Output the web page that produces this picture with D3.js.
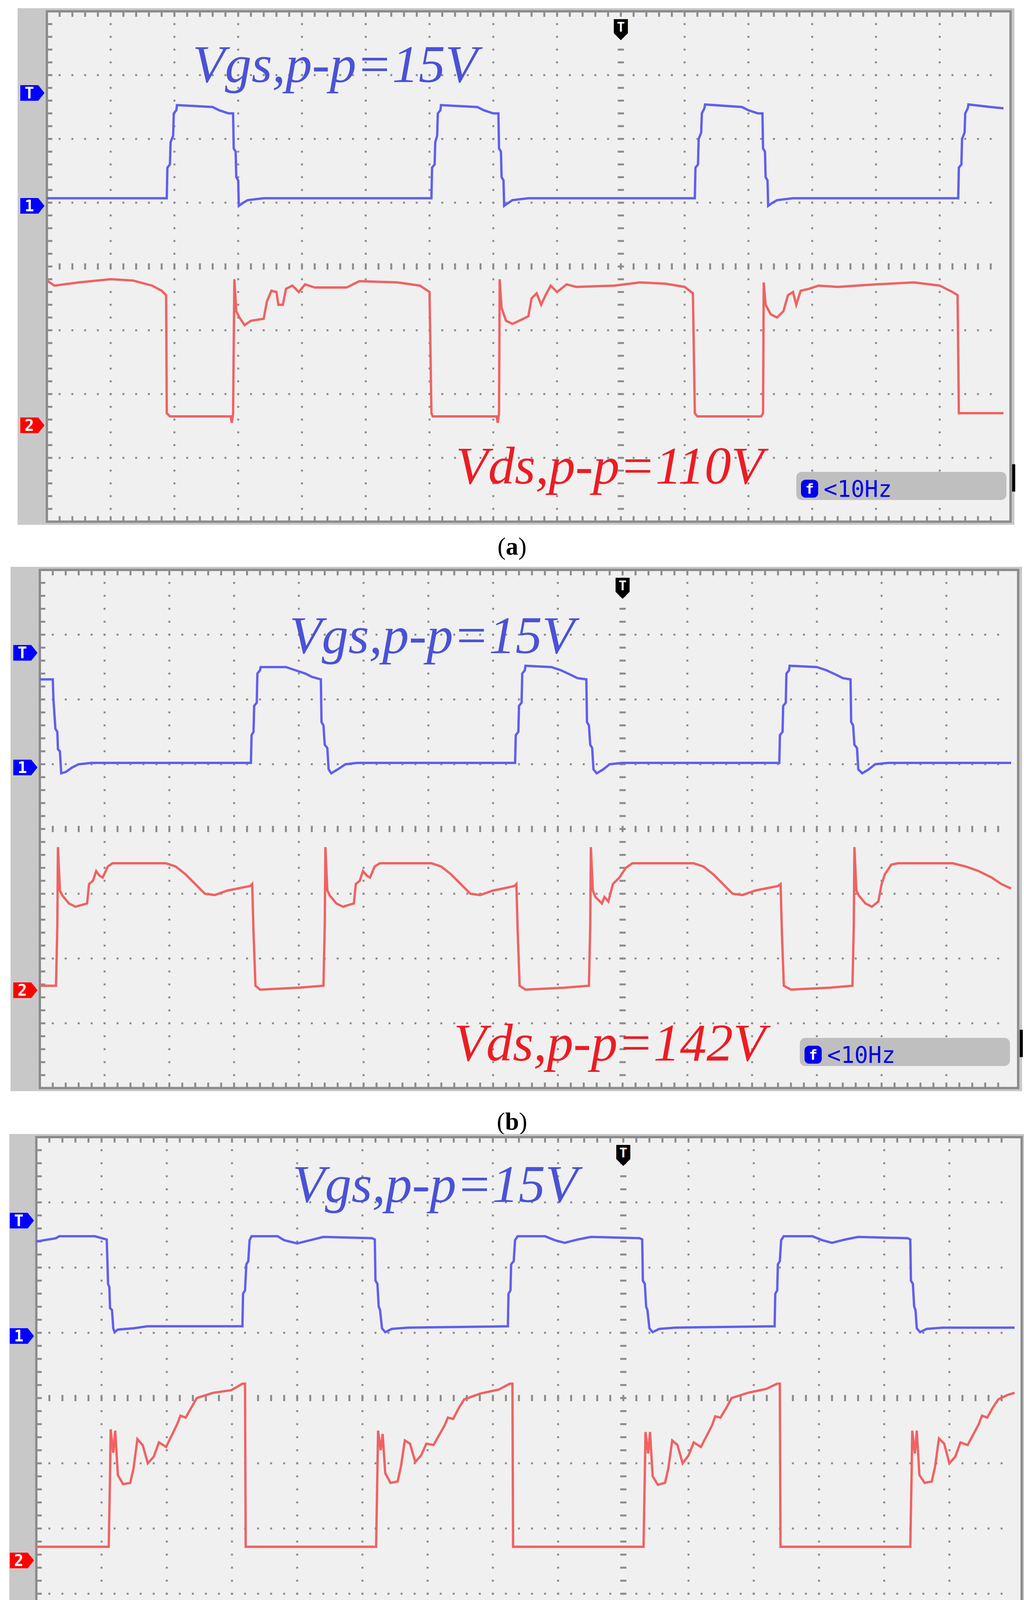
<!DOCTYPE html>
<html><head><meta charset="utf-8">
<script src="https://cdn.jsdelivr.net/npm/d3@7"></script>
<style>body{margin:0;background:#fff}</style>
</head><body><div id="chart"></div>
<script>
// traces: [time (div), level (div from top)]
const blueA = [[0,2.93],[1.88,2.93],[1.89,2.45],[1.93,2.4],[1.94,2.05],[1.98,1.95],[1.99,1.6],[2.03,1.55],[2.04,1.47],[2.6,1.5],[2.7,1.55],[2.85,1.6],[2.92,1.6],[2.93,2.15],[2.96,2.2],[2.97,2.6],[3.0,2.65],[3.01,3.05],[3.08,3.0],[3.15,2.96],[3.4,2.93],[6.03,2.93],
  [6.04,2.45],[6.08,2.4],[6.09,2.05],[6.12,1.95],[6.13,1.6],[6.17,1.55],[6.18,1.47],[6.75,1.5],[6.85,1.55],[7.0,1.6],[7.08,1.6],[7.09,2.15],[7.12,2.2],[7.13,2.6],[7.16,2.65],[7.17,3.05],[7.24,3.0],[7.3,2.96],[7.55,2.93],[10.16,2.93],
  [10.17,2.45],[10.21,2.4],[10.22,2.0],[10.26,1.9],[10.27,1.6],[10.31,1.52],[10.32,1.46],[10.9,1.5],[11.0,1.55],[11.15,1.6],[11.22,1.6],[11.23,2.15],[11.26,2.2],[11.27,2.6],[11.3,2.65],[11.31,3.05],[11.38,3.0],[11.45,2.96],[11.7,2.93],[14.29,2.93],
  [14.3,2.45],[14.34,2.4],[14.35,2.0],[14.39,1.9],[14.4,1.6],[14.44,1.52],[14.45,1.46],[14.8,1.5],[15,1.52]];
const redA = [[0,4.22],[0.12,4.3],[0.5,4.25],[1.0,4.2],[1.35,4.22],[1.65,4.3],[1.8,4.38],[1.87,4.45],[1.88,6.3],[1.93,6.35],[2.88,6.35],[2.9,6.45],[2.92,6.3],[2.94,4.2],[2.97,4.7],[3.02,4.8],[3.1,4.92],[3.2,4.85],[3.4,4.82],[3.45,4.55],[3.52,4.38],[3.6,4.4],[3.63,4.6],[3.7,4.6],[3.75,4.35],[3.85,4.3],[3.95,4.4],[4.05,4.28],[4.2,4.33],[4.7,4.33],[4.9,4.23],[5.5,4.25],[5.85,4.3],[6.0,4.4],[6.03,6.3],
  [6.05,6.35],[7.05,6.35],[7.07,6.45],[7.09,6.3],[7.1,4.2],[7.13,4.65],[7.2,4.85],[7.3,4.9],[7.45,4.83],[7.55,4.78],[7.6,4.5],[7.68,4.42],[7.75,4.6],[7.82,4.45],[7.9,4.3],[8.0,4.4],[8.15,4.28],[8.3,4.32],[8.9,4.3],[9.3,4.25],[9.7,4.27],[10.0,4.32],[10.13,4.42],[10.16,6.3],
  [10.2,6.35],[11.2,6.35],[11.23,6.3],[11.24,4.25],[11.27,4.6],[11.35,4.75],[11.45,4.8],[11.55,4.7],[11.62,4.45],[11.7,4.4],[11.75,4.6],[11.82,4.38],[11.95,4.35],[12.1,4.3],[12.4,4.32],[13.0,4.28],[13.6,4.25],[14.0,4.3],[14.2,4.4],[14.28,4.45],[14.3,6.3],[15,6.3]];
const blueB = [[0,1.69],[0.2,1.69],[0.21,2.0],[0.24,2.45],[0.27,2.5],[0.28,2.77],[0.31,2.8],[0.33,3.14],[0.4,3.12],[0.5,3.05],[0.6,3.0],[0.8,2.98],[3.26,2.98],[3.27,2.55],[3.3,2.5],[3.31,2.1],[3.35,2.05],[3.36,1.6],[3.4,1.55],[3.41,1.5],[3.8,1.5],[3.95,1.55],[4.1,1.6],[4.2,1.65],[4.34,1.69],[4.35,2.35],[4.38,2.4],[4.4,2.7],[4.44,2.75],[4.46,3.08],[4.5,3.14],[4.6,3.08],[4.72,3.0],[4.9,2.98],
  [7.34,2.98],[7.35,2.55],[7.39,2.5],[7.4,2.1],[7.44,2.05],[7.45,1.6],[7.49,1.55],[7.5,1.48],[7.9,1.5],[8.05,1.55],[8.2,1.62],[8.3,1.67],[8.44,1.69],[8.45,2.35],[8.48,2.4],[8.5,2.7],[8.53,2.75],[8.55,3.08],[8.6,3.14],[8.7,3.08],[8.8,3.0],[9.0,2.98],
  [11.42,2.98],[11.43,2.55],[11.47,2.5],[11.48,2.1],[11.52,2.05],[11.53,1.6],[11.57,1.55],[11.58,1.48],[12.0,1.5],[12.15,1.55],[12.3,1.62],[12.4,1.67],[12.52,1.69],[12.53,2.35],[12.56,2.4],[12.58,2.7],[12.62,2.75],[12.64,3.08],[12.7,3.14],[12.8,3.08],[12.9,3.0],[13.1,2.98],[15,2.98]];
const redB = [[0,6.42],[0.25,6.42],[0.27,5.5],[0.28,4.28],[0.31,4.95],[0.35,5.03],[0.45,5.15],[0.55,5.2],[0.73,5.15],[0.76,4.85],[0.82,4.8],[0.87,4.65],[0.92,4.72],[0.97,4.75],[1.05,4.58],[1.12,4.53],[1.95,4.53],[2.1,4.58],[2.25,4.7],[2.4,4.85],[2.55,5.0],[2.7,5.02],[2.9,4.95],[3.05,4.92],[3.25,4.88],[3.28,4.85],[3.3,5.6],[3.33,6.42],[3.4,6.48],[4.0,6.45],[4.38,6.42],
  [4.4,5.5],[4.41,4.28],[4.44,4.95],[4.48,5.03],[4.58,5.15],[4.68,5.2],[4.85,5.15],[4.88,4.85],[4.94,4.8],[4.99,4.65],[5.05,4.72],[5.1,4.75],[5.17,4.58],[5.25,4.53],[6.05,4.53],[6.2,4.58],[6.35,4.7],[6.5,4.85],[6.65,5.0],[6.8,5.02],[7.0,4.95],[7.15,4.92],[7.33,4.88],[7.36,4.85],[7.38,5.6],[7.41,6.42],[7.5,6.48],[8.1,6.45],[8.48,6.42],
  [8.5,5.5],[8.51,4.28],[8.54,4.95],[8.58,5.05],[8.68,5.15],[8.72,5.05],[8.78,5.12],[8.85,4.85],[8.95,4.75],[9.05,4.6],[9.15,4.53],[10.1,4.53],[10.25,4.58],[10.4,4.7],[10.55,4.85],[10.7,5.0],[10.85,5.02],[11.05,4.95],[11.2,4.92],[11.4,4.88],[11.44,4.85],[11.46,5.6],[11.49,6.42],[11.6,6.48],[12.2,6.45],[12.55,6.42],
  [12.57,5.5],[12.58,4.28],[12.61,4.95],[12.65,5.03],[12.75,5.15],[12.85,5.2],[12.95,5.12],[13.0,4.85],[13.05,4.7],[13.15,4.55],[13.25,4.53],[14.1,4.53],[14.3,4.58],[14.5,4.65],[14.7,4.75],[14.85,4.85],[15,4.92]];
const blueC = [[0,1.6],[0.3,1.55],[0.35,1.52],[0.9,1.52],[1.08,1.57],[1.1,2.25],[1.12,2.3],[1.13,2.62],[1.16,2.65],[1.18,2.93],[1.2,2.99],[1.25,2.95],[1.5,2.93],[1.7,2.9],[3.16,2.9],[3.17,2.4],[3.2,2.35],[3.22,1.95],[3.25,1.9],[3.27,1.58],[3.3,1.52],[3.7,1.52],[3.8,1.58],[4.0,1.63],[4.2,1.58],[4.4,1.53],[5.15,1.55],[5.19,1.57],
  [5.2,2.2],[5.23,2.25],[5.25,2.6],[5.27,2.65],[5.3,2.93],[5.35,2.99],[5.45,2.94],[5.7,2.92],[7.23,2.9],[7.24,2.4],[7.27,2.35],[7.28,1.95],[7.32,1.9],[7.34,1.58],[7.38,1.52],[7.8,1.52],[7.95,1.58],[8.1,1.62],[8.3,1.57],[8.5,1.53],[9.25,1.55],[9.29,1.57],
  [9.3,2.2],[9.33,2.25],[9.35,2.6],[9.37,2.65],[9.4,2.93],[9.45,2.99],[9.55,2.94],[9.8,2.92],[11.32,2.9],[11.33,2.4],[11.36,2.35],[11.37,1.95],[11.4,1.9],[11.42,1.58],[11.46,1.52],[11.9,1.52],[12.05,1.58],[12.2,1.62],[12.4,1.57],[12.6,1.53],[13.36,1.55],[13.4,1.57],
  [13.41,2.2],[13.44,2.25],[13.46,2.6],[13.48,2.65],[13.5,2.93],[13.55,2.99],[13.65,2.94],[13.9,2.92],[15,2.92]];
const redC = [[0,6.28],[1.11,6.28],[1.13,5.2],[1.14,4.48],[1.18,4.84],[1.21,4.5],[1.25,5.18],[1.33,5.32],[1.44,5.3],[1.49,5.08],[1.55,4.63],[1.63,4.72],[1.71,5.0],[1.8,4.9],[1.88,4.68],[1.99,4.75],[2.16,4.4],[2.21,4.27],[2.29,4.3],[2.38,4.14],[2.46,4.0],[2.71,3.92],[2.99,3.88],[3.16,3.78],[3.2,3.78],[3.21,6.28],
  [5.21,6.28],[5.23,5.1],[5.24,4.5],[5.28,4.8],[5.31,4.55],[5.35,5.15],[5.43,5.3],[5.54,5.28],[5.59,5.05],[5.65,4.65],[5.73,4.7],[5.81,4.98],[5.9,4.88],[5.98,4.7],[6.09,4.72],[6.26,4.42],[6.31,4.3],[6.39,4.32],[6.48,4.15],[6.56,4.02],[6.81,3.93],[7.09,3.87],[7.26,3.78],[7.3,3.78],[7.31,6.28],
  [9.31,6.28],[9.33,5.15],[9.34,4.52],[9.38,4.85],[9.41,4.52],[9.45,5.2],[9.53,5.33],[9.64,5.3],[9.69,5.08],[9.75,4.65],[9.83,4.72],[9.91,5.0],[10.0,4.88],[10.08,4.68],[10.19,4.75],[10.36,4.42],[10.41,4.28],[10.49,4.3],[10.58,4.15],[10.66,4.0],[10.91,3.92],[11.19,3.86],[11.36,3.78],[11.4,3.78],[11.41,6.28],
  [13.4,6.28],[13.42,5.2],[13.43,4.5],[13.47,4.85],[13.5,4.5],[13.54,5.18],[13.62,5.3],[13.73,5.28],[13.78,5.05],[13.84,4.62],[13.92,4.7],[14.0,5.0],[14.09,4.9],[14.17,4.68],[14.28,4.72],[14.45,4.4],[14.5,4.27],[14.58,4.3],[14.67,4.14],[14.75,4.02],[14.9,3.95],[15,3.92]];

const vgsLabels = ["Vgs,p-p=15V", "Vgs,p-p=15V", "Vgs,p-p=15V"];
const vdsLabels = ["Vds,p-p=110V", "Vds,p-p=142V", "Vds,p-p=280V"];
const captions = ["a", "b", "c"];
const markerLevels = [["T", 1.28], ["1", 3.05], ["2", 6.49]];

// panel frames (pixel layout)
const panels = [
  {x0: 120, y0: 29, div: 163.3, gray: 45, blue: blueA, red: redA, vgs: [493, 210], vds: [1167, 1238], badge: [2039, 1208], cap: 1420},
  {x0: 102, y0: 1459, div: 165.8, gray: 27, blue: blueB, red: redB, vgs: [741, 1672], vds: [1162, 2715], badge: [2048, 2657], cap: 2892},
  {x0: 93, y0: 2911, div: 167, gray: 24, blue: blueC, red: redC, vgs: [749, 3077], vds: [1181, 4197], badge: [2053, 4136], cap: 4368}
];

const W = 2622, H = 4390;
const svg = d3.select("#chart").append("svg").attr("width", W).attr("height", H);

panels.forEach(function(p, i) {
  const x = d3.scaleLinear().domain([0, 15]).range([p.x0, p.x0 + 15 * p.div]);
  const y = d3.scaleLinear().domain([0, 8]).range([p.y0, p.y0 + 8 * p.div]);
  const g = svg.append("g");
  const right = x(15) + 18, bottom = y(8);

  // outer frame + gray strip
  g.append("rect").attr("x", p.gray).attr("y", p.y0 - 8).attr("width", right + 10 - p.gray).attr("height", bottom - p.y0 + 16)
    .attr("fill", "#c8c8c8");
  g.append("rect").attr("x", x(0)).attr("y", y(0)).attr("width", right - x(0)).attr("height", bottom - y(0))
    .attr("fill", "#f0f0f0").attr("stroke", "#8c8c8c").attr("stroke-width", 6);

  // dotted grid
  const minorX = d3.range(0, 15.01, 0.2), minorY = d3.range(0, 8.01, 0.2);
  for (let k = 1; k < 8; k++) {
    if (k === 4) continue;
    g.append("g").selectAll("rect").data(minorX.slice(1, -1)).enter().append("rect")
      .attr("x", d => x(d) - 2.5).attr("y", y(k) - 2.5).attr("width", 5).attr("height", 5).attr("fill", "#8c8c8c");
  }
  for (let k = 1; k < 15; k++) {
    if (k === 9) continue;
    g.append("g").selectAll("rect").data(minorY.slice(1, -1)).enter().append("rect")
      .attr("x", x(k) - 2.5).attr("y", d => y(d) - 2.5).attr("width", 5).attr("height", 5).attr("fill", "#8c8c8c");
  }
  // tick marks on edges and centre axes
  const tk = g.append("g").attr("stroke", "#8c8c8c").attr("stroke-width", 5);
  minorX.slice(1, -1).forEach(function(d) {
    tk.append("line").attr("x1", x(d)).attr("x2", x(d)).attr("y1", y(0)).attr("y2", y(0) + 14);
    tk.append("line").attr("x1", x(d)).attr("x2", x(d)).attr("y1", bottom - 14).attr("y2", bottom);
    tk.append("line").attr("x1", x(d)).attr("x2", x(d)).attr("y1", y(4) - 8).attr("y2", y(4) + 8);
  });
  minorY.slice(1, -1).forEach(function(d) {
    tk.append("line").attr("x1", x(0)).attr("x2", x(0) + 14).attr("y1", y(d)).attr("y2", y(d));
    tk.append("line").attr("x1", x(9) - 8).attr("x2", x(9) + 8).attr("y1", y(d)).attr("y2", y(d));
  });

  // traces
  const line = d3.line().x(d => x(d[0])).y(d => y(d[1]));
  g.append("path").datum(p.blue).attr("d", line).attr("fill", "none").attr("stroke", "#5f5ff0").attr("stroke-width", 6);
  g.append("path").datum(p.red).attr("d", line).attr("fill", "none").attr("stroke", "#f06262").attr("stroke-width", 6);

  // channel markers
  markerLevels.forEach(function(m) {
    const col = m[0] === "2" ? "#ff0000" : "#0000ff";
    const my = y(m[1]), mx = x(0) - 6;
    g.append("path").attr("d", `M${mx - 62},${my - 20}H${mx - 16}L${mx},${my}L${mx - 16},${my + 20}H${mx - 62}Z`).attr("fill", col);
    g.append("text").attr("x", mx - 39).attr("y", my + 14).attr("text-anchor", "middle")
      .attr("font-family", "DejaVu Sans Mono").attr("font-weight", "bold").attr("font-size", 40).attr("fill", "#fff").text(m[0]);
  });

  // trigger marker
  const tx = x(9), ty = y(0) + 20;
  g.append("path").attr("d", `M${tx - 18},${ty}H${tx + 18}V${ty + 36}L${tx},${ty + 54}L${tx - 18},${ty + 36}Z`).attr("fill", "#000");
  g.append("text").attr("x", tx).attr("y", ty + 32).attr("text-anchor", "middle").attr("font-family", "DejaVu Sans Mono")
    .attr("font-weight", "bold").attr("font-size", 34).attr("fill", "#fff").text("T");

  // right edge marker
  g.append("rect").attr("x", right + 4).attr("y", y(7.1)).attr("width", 8).attr("height", 70).attr("fill", "#000");

  // labels
  g.append("text").attr("x", p.vgs[0]).attr("y", p.vgs[1]).attr("font-family", "Liberation Serif").attr("font-style", "italic")
    .attr("font-size", 136).attr("fill", "#4a52d6").text(vgsLabels[i]);
  g.append("text").attr("x", p.vds[0]).attr("y", p.vds[1]).attr("font-family", "Liberation Serif").attr("font-style", "italic")
    .attr("font-size", 136).attr("fill", "#ec1c24").text(vdsLabels[i]);

  // frequency badge
  const bx = p.badge[0], by = p.badge[1];
  g.append("rect").attr("x", bx).attr("y", by).attr("width", 538).attr("height", 72).attr("rx", 14).attr("fill", "#bfbfbf");
  g.append("rect").attr("x", bx + 12).attr("y", by + 20).attr("width", 44).attr("height", 46).attr("rx", 12).attr("fill", "#0000ee");
  g.append("text").attr("x", bx + 34).attr("y", by + 56).attr("text-anchor", "middle").attr("font-family", "DejaVu Sans Mono")
    .attr("font-weight", "bold").attr("font-size", 36).attr("fill", "#fff").text("f");
  g.append("text").attr("x", bx + 70).attr("y", by + 64).attr("font-family", "DejaVu Sans Mono")
    .attr("font-size", 58).attr("fill", "#0000ee").text("<10Hz");

  // caption
  const cap = svg.append("text").attr("x", 1311).attr("y", p.cap).attr("text-anchor", "middle")
    .attr("font-family", "Liberation Serif").attr("font-size", 64).attr("fill", "#000");
  cap.append("tspan").text("(");
  cap.append("tspan").attr("font-weight", "bold").text(captions[i]);
  cap.append("tspan").text(")");
});
</script>
</body></html>
